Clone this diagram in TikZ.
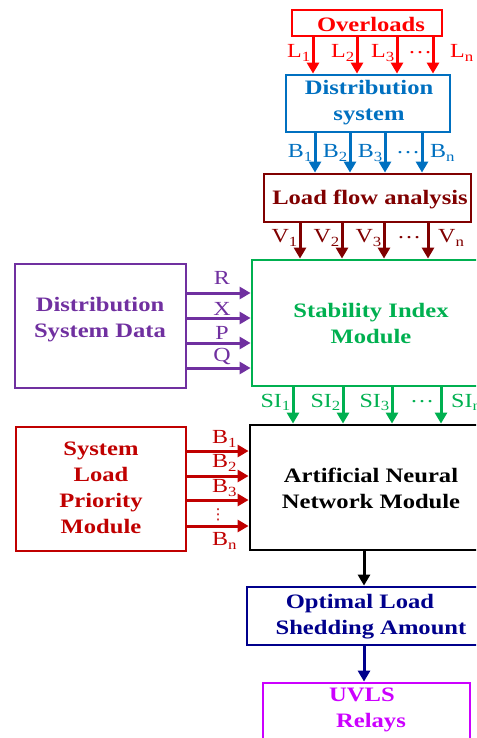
\documentclass[tikz,border=0pt]{standalone}
\usepackage{fontspec}
\setmainfont{Liberation Serif}[FakeStretch=1.2]
\newfontfamily\symfont{DejaVu Sans}
\usetikzlibrary{arrows.meta}

\definecolor{ovred}{RGB}{255,0,0}
\definecolor{dsblue}{RGB}{0,112,192}
\definecolor{lfmaroon}{RGB}{128,0,0}
\definecolor{sigreen}{RGB}{0,176,80}
\definecolor{ddpurple}{RGB}{112,48,160}
\definecolor{prred}{RGB}{192,0,0}
\definecolor{olanavy}{RGB}{0,0,140}
\definecolor{uvmagenta}{RGB}{204,0,255}

\begin{document}
\begin{tikzpicture}[x=1pt,y=-1pt,
  box/.style={draw, rectangle, inner sep=0pt, line width=2.8pt},
  title/.style={inner sep=0pt, align=center,
    font=\fontsize{20.5}{26}\selectfont\bfseries},
  lab/.style={inner sep=0pt, font=\fontsize{20}{22}\selectfont},
  arr/.style={line width=3pt, -{Triangle[length=11pt,width=12pt]}}]

\clip (0,0) rectangle (476,738);

% ---- boxes ----
\node[box, ovred, minimum width=150pt, minimum height=26pt] (ov) at (367,23) {};
\node[box, dsblue, minimum width=164pt, minimum height=57pt] (ds) at (368,103.5) {};
\node[box, lfmaroon, minimum width=207pt, minimum height=48pt] (lf) at (367.5,198) {};
\node[box, sigreen, minimum width=248pt, minimum height=126pt] (si) at (376,323) {};
\node[box, ddpurple, minimum width=171pt, minimum height=124pt] (dd) at (100.5,326) {};
\node[box, black, minimum width=250pt, minimum height=125pt] (ann) at (375,487.5) {};
\node[box, prred, minimum width=170pt, minimum height=124pt] (slp) at (101,489) {};
\node[box, olanavy, minimum width=253pt, minimum height=58pt] (ola) at (373.5,616) {};
\node[box, uvmagenta, minimum width=207pt, minimum height=97pt] (uv) at (366.5,731.5) {};

% ---- box titles ----
\node[title, ovred] (ovt) at (371,24) {Overloads};
\node[title, dsblue] (dst) at (369,103) {Distribution\\system};
\node[title, lfmaroon] (lft) at (370,199) {Load flow analysis};
\node[title, sigreen] (sit) at (371,324) {Stability Index\\Module};
\node[title, ddpurple] (ddt) at (100,320) {Distribution\\System Data};
\node[title, black] (annt) at (371,488) {Artificial Neural\\Network Module};
\node[title, prred] (slpt) at (101,488) {System\\Load\\Priority\\Module};
\node[title, olanavy] (olat) at (371,617) {Optimal Load\hspace*{22pt}\\Shedding Amount};
\node[title, uvmagenta] (uvt) at (371,710) {UVLS\hspace*{18pt}\\Relays};

% ---- overloads to distribution system ----
\foreach \x in {313,357,397,433}
  \draw[arr, ovred] (ov.south -| \x,0) -- (ds.north -| \x,0);
\node[lab, ovred, anchor=east] (l1) at (311,53) {L\textsubscript{1}};
\node[lab, ovred, anchor=east] (l2) at (355,53) {L\textsubscript{2}};
\node[lab, ovred, anchor=east] (l3) at (395,53) {L\textsubscript{3}};
\node[lab, ovred] (ldots) at (420,53) {\dots};
\node[lab, ovred, anchor=west] (ln) at (450,53) {L\textsubscript{n}};

% ---- distribution system to load flow ----
\foreach \x in {315,350,385,422}
  \draw[arr, dsblue] (ds.south -| \x,0) -- (lf.north -| \x,0);
\node[lab, dsblue, anchor=east] (b1) at (313,153) {B\textsubscript{1}};
\node[lab, dsblue, anchor=east] (b2) at (348,153) {B\textsubscript{2}};
\node[lab, dsblue, anchor=east] (b3) at (383,153) {B\textsubscript{3}};
\node[lab, dsblue] (bdots) at (408,153) {\dots};
\node[lab, dsblue, anchor=west] (bn) at (430,153) {B\textsubscript{n}};

% ---- load flow to stability index ----
\foreach \x in {300,342,384,428}
  \draw[arr, lfmaroon] (lf.south -| \x,0) -- (si.north -| \x,0);
\node[lab, lfmaroon, anchor=east] (v1) at (298,238) {V\textsubscript{1}};
\node[lab, lfmaroon, anchor=east] (v2) at (340,238) {V\textsubscript{2}};
\node[lab, lfmaroon, anchor=east] (v3) at (382,238) {V\textsubscript{3}};
\node[lab, lfmaroon] (vdots) at (409,238) {\dots};
\node[lab, lfmaroon, anchor=west] (vn) at (438,238) {V\textsubscript{n}};

% ---- system data to stability index ----
\foreach \y in {293,318,343,368}
  \draw[arr, ddpurple] (dd.east |- 0,\y) -- (si.west |- 0,\y);
\node[lab, ddpurple] (lr) at (222,278) {R};
\node[lab, ddpurple] (lx) at (222,309) {X};
\node[lab, ddpurple] (lp) at (222,333) {P};
\node[lab, ddpurple] (lq) at (222,356) {Q};

% ---- stability index to neural network ----
\foreach \x in {293,343,392,441}
  \draw[arr, sigreen] (si.south -| \x,0) -- (ann.north -| \x,0);
\node[lab, sigreen, anchor=east] (si1) at (291,402) {SI\textsubscript{1}};
\node[lab, sigreen, anchor=east] (si2) at (341,402) {SI\textsubscript{2}};
\node[lab, sigreen, anchor=east] (si3) at (390,402) {SI\textsubscript{3}};
\node[lab, sigreen] (sidots) at (422,402) {\dots};
\node[lab, sigreen, anchor=west] (sin) at (451,402) {SI\textsubscript{n}};

% ---- load priority to neural network ----
\foreach \y in {451,476,500,526}
  \draw[arr, prred] (slp.east |- 0,\y) -- (ann.west |- 0,\y);
\node[lab, prred, anchor=west] (p1) at (212,439) {B\textsubscript{1}};
\node[lab, prred, anchor=west] (p2) at (212,463) {B\textsubscript{2}};
\node[lab, prred, anchor=west] (p3) at (212,488) {B\textsubscript{3}};
\node[lab, prred, font=\symfont\fontsize{15}{15}\selectfont] (pdots) at (218,515) {⋮};
\node[lab, prred, anchor=west] (pn) at (212,541) {B\textsubscript{n}};

% ---- output chain ----
\draw[arr, black] (ann.south -| 364,0) -- (ola.north -| 364,0);
\draw[arr, olanavy] (ola.south -| 364,0) -- (uv.north -| 364,0);
\end{tikzpicture}
\end{document}
